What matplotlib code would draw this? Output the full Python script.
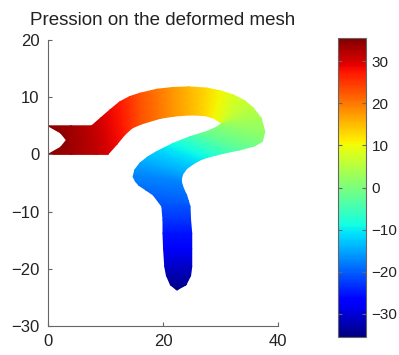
import matplotlib
matplotlib.use('Agg')
import matplotlib.pyplot as plt
import numpy as np

plt.rcParams['font.family'] = ['Liberation Sans', 'DejaVu Sans']

# bord exterieur (A) et bord interieur (B) du tube, points apparies le long du tube
bord_a_x = [0, 4, 7.6, 9.2, 10.8, 12.5, 14.2, 16, 19, 21.7, 24.5, 27.6, 30, 32.2, 34.2,
            35.7, 37.1, 37.7, 37.3, 36.0, 33.4, 31.0, 29.3, 27.8, 26.4, 25.2, 24.1, 23.4,
            23.2, 23.2, 23.4, 23.7, 24.1, 24.4, 24.7, 24.8, 25.0, 25.0, 25.0, 24.8, 24.0, 22.4]
bord_a_y = [5, 5, 5, 6.4, 7.8, 9.2, 10.1, 10.7, 11.4, 11.7, 11.8, 11.6, 11.1, 10.4, 9.4,
            8.1, 6.3, 4.0, 2.3, 1.5, 0.8, 0.3, -0.1, -0.5, -1.0, -1.7, -2.5, -3.5,
            -4.3, -4.8, -5.5, -6.3, -7.1, -8.1, -9.1, -11.5, -13.8, -16.5, -19.6, -21.2, -22.8, -23.7]
bord_b_x = [0, 4, 8.5, 10.4, 12.0, 13.3, 14.6, 16.2, 19.5, 22.0, 24.7, 27.2, 28.9, 30.2, 30.2,
            30.2, 30.2, 30.2, 29.2, 27.6, 26.0, 24.7, 23.2, 21.7, 20.3, 18.9, 17.4, 16.0,
            15.1, 14.8, 15.2, 15.8, 17.0, 18.3, 19.8, 20.0, 20.0, 20.1, 20.3, 20.6, 21.3, 22.4]
bord_b_y = [0, 0, 0, 0, 1.8, 3.4, 4.6, 5.3, 6.3, 6.7, 6.9, 6.8, 6.3, 5.4, 5.4,
            5.4, 5.4, 5.4, 4.7, 4.0, 3.5, 3.1, 2.5, 1.9, 1.2, 0.5, -0.4, -1.5,
            -2.7, -3.9, -4.7, -5.4, -6.2, -7.1, -9.1, -11.5, -13.8, -16.5, -19.6, -21.2, -22.8, -23.7]
pression = [34.5, 33.5, 31.5, 30, 28.5, 27, 25, 23, 20, 17.5, 15.5, 13, 10.5, 8, 6.5,
            5, 3.5, 2, 0.5, -1, -3, -5, -7, -9, -10.5, -12, -13.5, -15,
            -16.5, -17.5, -18, -18.5, -19, -19.5, -21, -23, -25.5, -28, -31, -32.5, -34, -35]
# encoche concave a l'entree (gauche)
encoche = [0, 2.2, 3.2, 2.2, 0]

t = np.linspace(0, 1, len(encoche))[:, None]
X = (1 - t) * np.array(bord_a_x) + t * np.array(bord_b_x)
Y = (1 - t) * np.array(bord_a_y) + t * np.array(bord_b_y)
X[:, 0] += np.array(encoche)
C = np.tile(np.array(pression), (len(encoche), 1))

fig = plt.figure(figsize=(3.99, 3.55), dpi=100)
ax = fig.add_axes([48 / 399, 1 - 326 / 355, 230 / 399, 286 / 355])
m = ax.pcolormesh(X, Y, C, shading='gouraud', cmap='jet', vmin=-35.5, vmax=35.5)
ax.set_xlim(0, 40)
ax.set_ylim(-30, 20)
ax.set_xticks([0, 20, 40])
ax.set_yticks([-30, -20, -10, 0, 10, 20])
for s in ['top', 'right']:
    ax.spines[s].set_visible(False)
for s in ['left', 'bottom']:
    ax.spines[s].set_color('#666666')
ax.tick_params(direction='in', length=3, color='#666666', labelsize=12,
               labelcolor='#222222', pad=6)
ax.set_title('Pression on the deformed mesh', fontsize=13.5, color='#222222', pad=11)

cax = fig.add_axes([338 / 399, 1 - 337 / 355, 28 / 399, 299 / 355])
cb = fig.colorbar(m, cax=cax, ticks=[-30, -20, -10, 0, 10, 20, 30])
cb.outline.set_edgecolor('#666666')
cb.ax.tick_params(direction='in', length=3, left=True, right=True, color='#666666',
                  labelsize=11, labelcolor='#222222', pad=4)

plt.savefig('out.png', dpi=100)
